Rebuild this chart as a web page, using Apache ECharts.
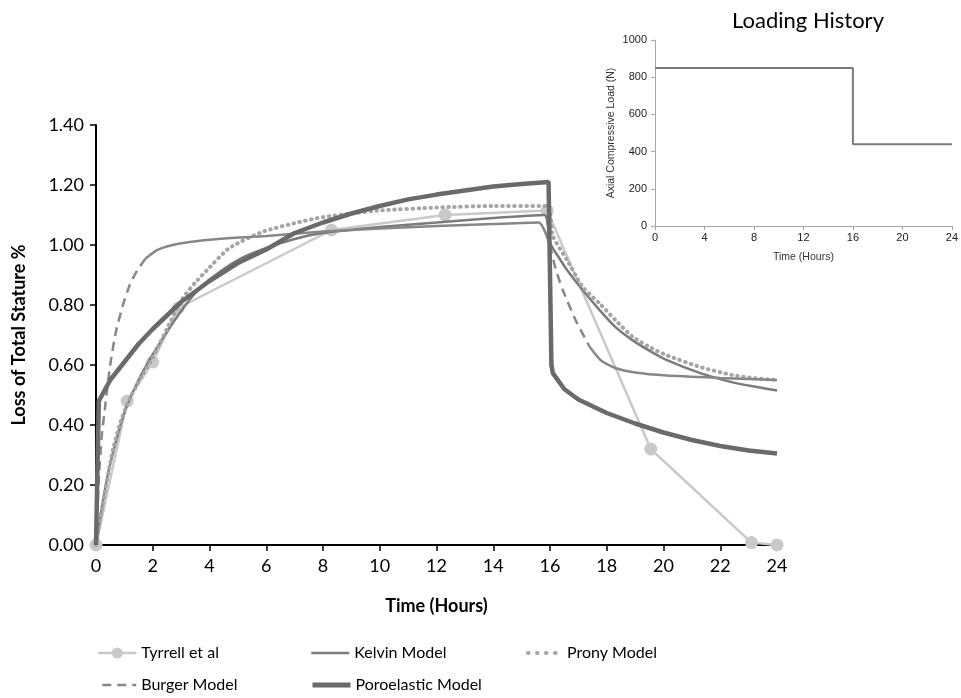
<!DOCTYPE html>
<html>
<head>
<meta charset="utf-8">
<script src="https://cdn.jsdelivr.net/npm/echarts@6/dist/echarts.min.js"></script>
<style>html,body{margin:0;padding:0;background:#fff}#c{width:961px;height:698px}</style>
</head>
<body>
<div id="c"></div>
<script>
// ---- Data ----
const tyrrell = [[0,0],[1.1,0.48],[2.0,0.61],[2.9,0.79],[8.3,1.05],[12.3,1.10],[15.9,1.115],[19.55,0.32],[23.1,0.008],[24,0]];
const kelvin = [[0,0],[0.25,0.15],[0.5,0.27],[1,0.44],[1.5,0.55],[2,0.635],[2.5,0.71],[3,0.78],[3.5,0.84],[4,0.885],[5,0.95],[6,0.99],[7,1.02],[8,1.04],[10,1.06],[12,1.075],[14,1.09],[15.8,1.1],[16.0,1.007],[16.3,0.96],[16.6,0.917],[17.15,0.85],[17.75,0.783],[18.3,0.727],[18.9,0.683],[19.5,0.648],[20.1,0.617],[21.3,0.573],[22.4,0.543],[23.2,0.528],[24,0.515]];
const prony = [[0,0],[0.3,0.17],[0.6,0.32],[0.9,0.42],[1.2,0.49],[1.6,0.56],[2,0.625],[2.5,0.72],[3,0.815],[3.5,0.875],[3.9,0.915],[4.7,0.99],[5.9,1.045],[7.1,1.075],[8,1.093],[9,1.105],[10,1.115],[12,1.125],[14,1.13],[15.9,1.13],[16.1,1.03],[16.6,0.95],[17.15,0.86],[17.75,0.805],[18.3,0.75],[18.9,0.695],[19.5,0.66],[20.1,0.633],[21.3,0.593],[22.4,0.567],[23.2,0.556],[24,0.55]];
const burgerRise = [[0,0],[0.1,0.22],[0.2,0.36],[0.32,0.46],[0.5,0.6],[0.7,0.71],[0.95,0.8],[1.2,0.87],[1.45,0.915],[1.75,0.955]];
const burgerFlat = [[1.75,0.955],[2.15,0.983],[2.7,1.0],[3.3,1.01],[4.3,1.02],[6,1.03],[8,1.045],[10,1.055],[12,1.063],[14,1.07],[15.6,1.075],[16.0,1.0]];
const burgerDrop = [[16.0,1.0],[16.2,0.92],[16.45,0.85],[16.9,0.75],[17.4,0.66]];
const burgerTail = [[17.4,0.66],[17.8,0.615],[18.3,0.59],[19,0.575],[20.1,0.565],[22,0.557],[24,0.55]];
const poroelastic = [[0,0],[0.05,0.25],[0.1,0.48],[0.5,0.55],[1,0.61],[1.5,0.67],[2,0.72],[3,0.81],[4,0.88],[5,0.94],[6,0.985],[7,1.04],[8,1.075],[9,1.105],[10,1.13],[11,1.152],[12,1.168],[13,1.182],[14,1.195],[15,1.203],[15.95,1.21],[16.0,0.9],[16.05,0.6],[16.1,0.573],[16.5,0.52],[17,0.485],[18,0.44],[19,0.405],[20,0.375],[21,0.35],[22,0.33],[23,0.315],[24,0.305]];
const loadHistory = [[0,850],[16,850],[16,440],[24,440]];

const legendNames = ['Tyrrell et al','Kelvin Model','Prony Model','Burger Model','Poroelastic Model'];

const FONT = 'Lato';
const c = {tyr:'#c9c9c9', kel:'#7b7b7b', pro:'#a5a5a5', bur:'#878787', por:'#6a6a6a'};

const chart = echarts.init(document.getElementById('c'), null, {renderer:'canvas'});

function leg(name, left, top, withSymbol, lineStyle){
  const l = {data:[name], left:left, top:top, orient:'horizontal', itemWidth:38, itemHeight:14,
    selectedMode:false, textStyle:{fontFamily:FONT, fontSize:16, color:'#000'}, padding:0,
    lineStyle:lineStyle};
  if (!withSymbol) l.itemStyle = {opacity:0};
  return l;
}

chart.setOption({
  animation:false,
  backgroundColor:'#fff',
  title:{text:'Loading History', left:803, top:5, textAlign:'center',
    textStyle:{fontFamily:FONT, fontSize:22, fontWeight:'normal', color:'#000'}},
  legend:[
    leg(legendNames[0], 97, 645, true, {width:2.5}),
    leg(legendNames[1], 310, 645, false, {width:2.5}),
    leg(legendNames[2], 522, 645, false, {width:4, type:[0.5,8.5], cap:'round', dashOffset:-4}),
    leg(legendNames[3], 97, 677, false, {width:2.5, type:[9,6]}),
    leg(legendNames[4], 310, 677, false, {width:5})
  ],
  grid:[
    {left:96, top:125, width:681, height:420},
    {left:655, top:40, width:299, height:186}
  ],
  xAxis:[
    {gridIndex:0, type:'value', min:0, max:24, interval:2,
     name:'Time (Hours)', nameLocation:'middle', nameGap:52,
     nameTextStyle:{fontFamily:FONT, fontSize:18, fontWeight:'bold', color:'#000'},
     axisLine:{lineStyle:{color:'#000', width:2}},
     axisTick:{show:true, length:6, lineStyle:{color:'#000', width:1.5}},
     axisLabel:{fontFamily:FONT, fontSize:18, color:'#000', margin:12},
     splitLine:{show:false}},
    {gridIndex:1, type:'value', min:0, max:24, interval:4,
     name:'Time (Hours)', nameLocation:'middle', nameGap:26,
     nameTextStyle:{fontFamily:'Liberation Sans', fontSize:10.5, color:'#333'},
     axisLine:{lineStyle:{color:'#a6a6a6', width:1}},
     axisTick:{show:true, length:4, lineStyle:{color:'#a6a6a6'}},
     axisLabel:{fontFamily:'Liberation Sans', fontSize:11, color:'#222', margin:6},
     splitLine:{show:false}}
  ],
  yAxis:[
    {gridIndex:0, type:'value', min:0, max:1.4, interval:0.2,
     name:'Loss of Total Stature %', nameLocation:'middle', nameGap:68,
     nameTextStyle:{fontFamily:FONT, fontSize:18, fontWeight:'bold', color:'#000'},
     axisLine:{show:true, lineStyle:{color:'#000', width:2}},
     axisTick:{show:true, length:6, lineStyle:{color:'#000', width:1.5}},
     axisLabel:{fontFamily:FONT, fontSize:18, color:'#000', margin:12, formatter:v=>v.toFixed(2)},
     splitLine:{show:false}},
    {gridIndex:1, type:'value', min:0, max:1000, interval:200,
     name:'Axial Compressive Load (N)', nameLocation:'middle', nameGap:38,
     nameTextStyle:{fontFamily:'Liberation Sans', fontSize:10.5, color:'#333'},
     axisLine:{show:true, lineStyle:{color:'#a6a6a6', width:1}},
     axisTick:{show:true, length:4, lineStyle:{color:'#a6a6a6'}},
     axisLabel:{fontFamily:'Liberation Sans', fontSize:11, color:'#222', margin:8, formatter:v=>String(v)},
     splitLine:{show:false}}
  ],
  series:[
    {name:'Tyrrell et al', type:'line', data:tyrrell, xAxisIndex:0, yAxisIndex:0,
     symbol:'circle', symbolSize:13, itemStyle:{color:c.tyr}, lineStyle:{color:c.tyr, width:2.5}, z:2},
    {name:'Kelvin Model', type:'line', data:kelvin, showSymbol:false, symbol:'none', smooth:0.2,
     itemStyle:{color:c.kel}, lineStyle:{color:c.kel, width:2.5}, z:3},
    {name:'Prony Model', type:'line', data:prony, showSymbol:false, symbol:'none', smooth:0.2,
     itemStyle:{color:c.pro}, lineStyle:{color:c.pro, width:4, type:[0.5,5.5], cap:'round'}, z:3},
    {name:'Burger Model', type:'line', data:burgerRise, showSymbol:false, symbol:'none', smooth:0.2,
     itemStyle:{color:c.bur}, lineStyle:{color:c.bur, width:2.5, type:[9,6]}, z:3},
    {name:'Burger Model', type:'line', data:burgerFlat, showSymbol:false, symbol:'none', smooth:0.2,
     itemStyle:{color:c.bur}, lineStyle:{color:c.bur, width:2.5}, z:3},
    {name:'Burger Model', type:'line', data:burgerDrop, showSymbol:false, symbol:'none', smooth:0.2,
     itemStyle:{color:c.bur}, lineStyle:{color:c.bur, width:2.5, type:[9,6]}, z:3},
    {name:'Burger Model', type:'line', data:burgerTail, showSymbol:false, symbol:'none', smooth:0.2,
     itemStyle:{color:c.bur}, lineStyle:{color:c.bur, width:2.5}, z:3},
    {name:'Poroelastic Model', type:'line', data:poroelastic, showSymbol:false, symbol:'none',
     itemStyle:{color:c.por}, lineStyle:{color:c.por, width:4.5}, z:4},
    {name:'Loading', type:'line', data:loadHistory, xAxisIndex:1, yAxisIndex:1, showSymbol:false, symbol:'none',
     lineStyle:{color:'#7a7a7a', width:2}, z:2}
  ]
});
</script>
</body>
</html>
